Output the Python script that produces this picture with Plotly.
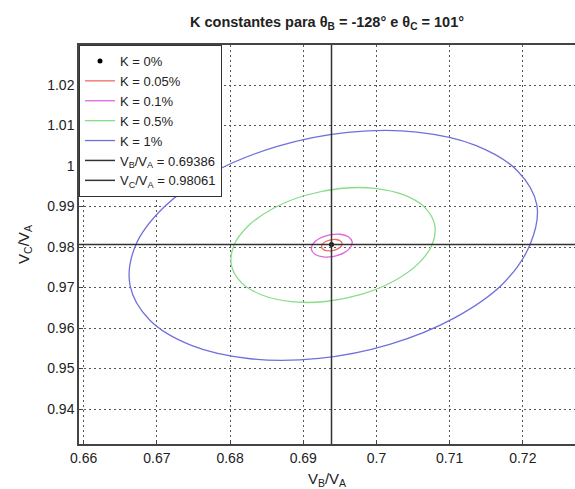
import plotly.graph_objects as go

# ---- data ----
VB = 0.69386   # V_B/V_A
VC = 0.98061   # V_C/V_A
x_range = [0.65936, 0.72713]
y_range = [0.93136, 1.02988]
x_ticks = [0.66, 0.67, 0.68, 0.69, 0.70, 0.71, 0.72]
x_ticklabels = ["0.66", "0.67", "0.68", "0.69", "0.7", "0.71", "0.72"]
y_ticks = [0.94, 0.95, 0.96, 0.97, 0.98, 0.99, 1.00, 1.01, 1.02]
y_ticklabels = ["0.94", "0.95", "0.96", "0.97", "0.98", "0.99", "1", "1.01", "1.02"]

# K = 1 %  (points read around the contour)
k1_x = [0.72192, 0.71925, 0.71355, 0.70551, 0.69609, 0.68645, 0.67772, 0.67098,
        0.66703, 0.66634, 0.66901, 0.67471, 0.68275, 0.69217, 0.70181, 0.71054,
        0.71728, 0.72100, 0.72192]
k1_y = [0.99035, 0.99884, 1.00511, 1.00839, 1.00830, 1.00484, 0.99844, 0.98986,
        0.98014, 0.97045, 0.96196, 0.95569, 0.95241, 0.95250, 0.95596, 0.96237,
        0.97094, 0.98066, 0.99035]

# K = 0.5 %
k05_x = [0.70796, 0.70663, 0.70378, 0.69976, 0.69505, 0.69023, 0.68587, 0.68249,
         0.68052, 0.68018, 0.68151, 0.68436, 0.68838, 0.69309, 0.69791, 0.70227,
         0.70565, 0.70762, 0.70796]
k05_y = [0.98548, 0.98972, 0.99285, 0.99450, 0.99445, 0.99272, 0.98952, 0.98523,
         0.98037, 0.97552, 0.97128, 0.96815, 0.96650, 0.96655, 0.96828, 0.97148,
         0.97577, 0.98063, 0.98548]

# K = 0.1 %
k01_x = [0.69668, 0.69616, 0.69504, 0.69361, 0.69226, 0.69135, 0.69112, 0.69164,
         0.69276, 0.69419, 0.69554, 0.69645, 0.69668]
k01_y = [0.98135, 0.98254, 0.98315, 0.98301, 0.98215, 0.98082, 0.97936, 0.97816,
         0.97755, 0.97769, 0.97855, 0.97988, 0.98135]

# K = 0.05 %
k005_x = [0.69529, 0.69503, 0.69447, 0.69376, 0.69308, 0.69262, 0.69251, 0.69277,
          0.69333, 0.69404, 0.69472, 0.69518, 0.69529]
k005_y = [0.98095, 0.98155, 0.98185, 0.98178, 0.98135, 0.98068, 0.97995, 0.97935,
          0.97905, 0.97912, 0.97955, 0.98022, 0.98095]

FONT = "Liberation Sans, Arial, sans-serif"
TXT = "#222222"

fig = go.Figure()

fig.add_trace(go.Scatter(x=[VB], y=[VC], mode="markers",
                         marker=dict(color="black", size=5),
                         name="K = 0%"))
fig.add_trace(go.Scatter(x=k005_x, y=k005_y, mode="lines",
                         line=dict(color="#ee6a6a", width=1.3, shape="spline"),
                         name="K = 0.05%"))
fig.add_trace(go.Scatter(x=k01_x, y=k01_y, mode="lines",
                         line=dict(color="#dd66dd", width=1.3, shape="spline"),
                         name="K = 0.1%"))
fig.add_trace(go.Scatter(x=k05_x, y=k05_y, mode="lines",
                         line=dict(color="#88dd88", width=1.3, shape="spline"),
                         name="K = 0.5%"))
fig.add_trace(go.Scatter(x=k1_x, y=k1_y, mode="lines",
                         line=dict(color="#7070dd", width=1.3, shape="spline"),
                         name="K = 1%"))
fig.add_trace(go.Scatter(x=[VB, VB], y=y_range, mode="lines",
                         line=dict(color="#333333", width=1.5),
                         name="V<sub>B</sub>/V<sub>A</sub> = 0.69386"))
fig.add_trace(go.Scatter(x=x_range, y=[VC, VC], mode="lines",
                         line=dict(color="#333333", width=1.5),
                         name="V<sub>C</sub>/V<sub>A</sub> = 0.98061"))

axis_common = dict(
    showgrid=True, gridcolor="#555555", gridwidth=1, griddash="2px,3px",
    zeroline=False, showline=True, linecolor="#444444", linewidth=1.5,
    ticks="inside", ticklen=4, tickcolor="#444444",
    tickfont=dict(family=FONT, size=14, color=TXT),
)

fig.update_layout(
    width=575, height=489,
    margin=dict(l=79, r=0, t=45, b=45),
    paper_bgcolor="white", plot_bgcolor="white",
    font=dict(family=FONT, size=13, color=TXT),
    title=dict(text="<b>K constantes para θ<sub>B</sub> = -128° e θ<sub>C</sub> = 101°</b>",
               x=0.5, xref="paper", xanchor="center",
               y=1 - 22 / 489, yref="container", yanchor="middle",
               font=dict(family=FONT, size=14.5, color=TXT)),
    xaxis=dict(range=x_range, tickvals=x_ticks, ticktext=x_ticklabels,
               mirror=True,
               title=dict(text="V<sub>B</sub>/V<sub>A</sub>", standoff=9,
                          font=dict(family=FONT, size=15, color=TXT)),
               **axis_common),
    yaxis=dict(range=y_range, tickvals=y_ticks, ticktext=y_ticklabels,
               mirror=False,
               title=dict(text="V<sub>C</sub>/V<sub>A</sub>", standoff=14,
                          font=dict(family=FONT, size=15, color=TXT)),
               **axis_common),
    legend=dict(x=0, y=1, xanchor="left", yanchor="top",
                bgcolor="white", bordercolor="#333333", borderwidth=1,
                font=dict(family=FONT, size=13, color=TXT),
                tracegroupgap=0),
    showlegend=True,
)

fig.write_html("out.html")
